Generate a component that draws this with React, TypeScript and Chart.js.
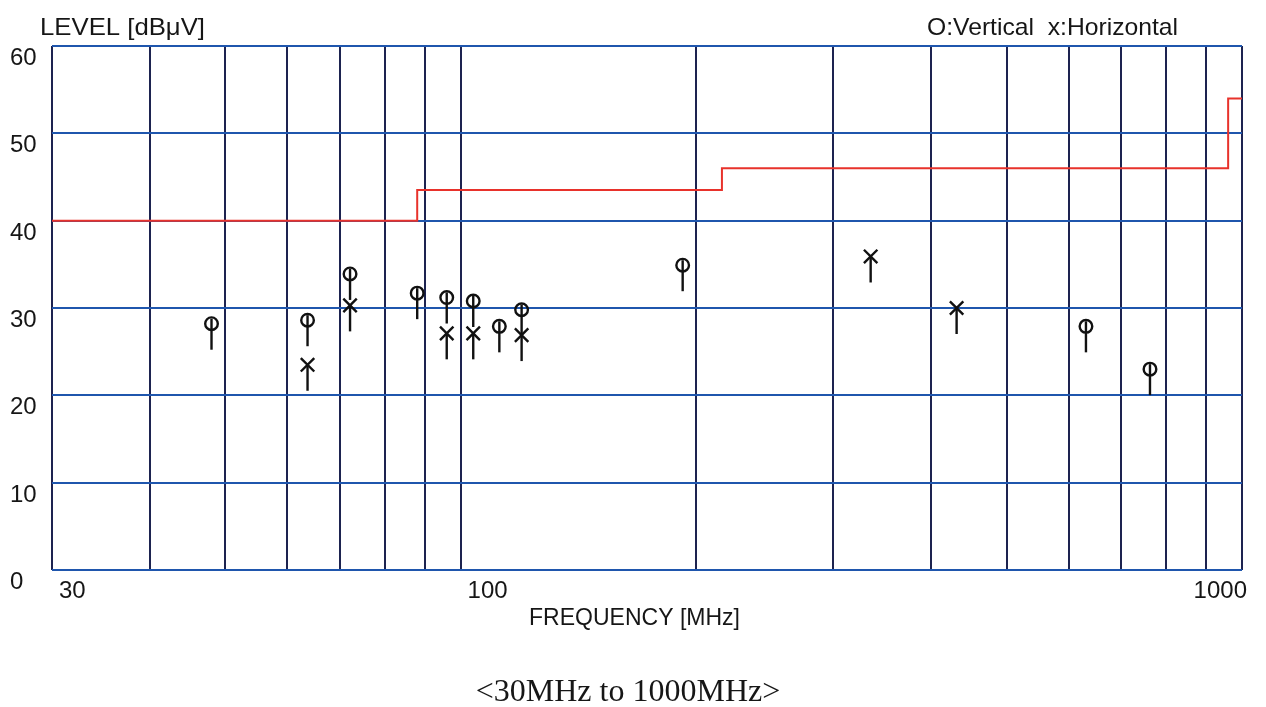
import React, { useEffect, useRef } from "react";
import { Chart, registerables } from "chart.js";

Chart.register(...registerables);

// ---- data ----
const limitFreq = [30, 88, 216, 960, 1000];
const limitLevel = [40, 43.5, 46, 54, 54];

const vertFreq = [48.0, 63.7, 72.2, 88.0, 96.0, 103.8, 112.1, 119.7, 192.4, 631.4, 762.5];
const vertLevel = [28.2, 28.6, 33.9, 31.7, 31.2, 30.8, 27.9, 29.8, 34.9, 27.9, 23.0];

const horizFreq = [63.7, 72.2, 96.0, 103.8, 119.7, 334.8, 431.3];
const horizLevel = [23.5, 30.3, 27.1, 27.1, 26.9, 35.9, 30.0];

const xGridValues = [30, 40, 50, 60, 70, 80, 90, 100, 200, 300, 400, 500, 600, 700, 800, 900, 1000];
const xLabelValues = [30, 100, 1000];
const yTickValues = [0, 10, 20, 30, 40, 50, 60];

const yTitle = "LEVEL [dBμV]";
const xTitle = "FREQUENCY [MHz]";
const legendText = "O:Vertical  x:Horizontal";
const caption = "<30MHz to 1000MHz>";

const TEXT_FONT = '24px "Liberation Sans", Arial, sans-serif';
const TEXT_COLOR = "#161616";

const stickPlugin = {
  id: "sticks",
  beforeDatasetsDraw(chart: any) {
    const ctx = chart.ctx;
    chart.data.datasets.forEach((ds: any, i: number) => {
      if (!ds.stick) return;
      const meta = chart.getDatasetMeta(i);
      ctx.save();
      ctx.strokeStyle = "#111";
      ctx.lineWidth = 2.4;
      meta.data.forEach((el: any) => {
        ctx.beginPath();
        ctx.moveTo(el.x, el.y - ds.stickTop);
        ctx.lineTo(el.x, el.y + 26);
        ctx.stroke();
      });
      ctx.restore();
    });
  },
};

function fitText(ctx: any, text: string, x: number, y: number, width: number, align: string) {
  const w = ctx.measureText(text).width;
  const sx = width / w;
  ctx.save();
  ctx.translate(x, y);
  ctx.scale(sx, 1);
  ctx.textAlign = align;
  ctx.fillText(text, 0, 0);
  ctx.restore();
}

const textPlugin = {
  id: "texts",
  afterDraw(chart: any) {
    const ctx = chart.ctx;
    const xs = chart.scales.x;
    const ys = chart.scales.y;
    ctx.save();
    ctx.fillStyle = TEXT_COLOR;
    ctx.font = TEXT_FONT;
    ctx.textBaseline = "alphabetic";

    // y tick labels
    ctx.textAlign = "left";
    yTickValues.forEach((v) => {
      ctx.fillText(String(v), 10, ys.getPixelForValue(v) + 19);
    });

    // x tick labels
    xLabelValues.forEach((v, i) => {
      const px = xs.getPixelForValue(v);
      if (i === xLabelValues.length - 1) {
        ctx.textAlign = "right";
        ctx.fillText(String(v), px + 5, 598);
      } else {
        ctx.textAlign = "left";
        ctx.fillText(String(v), px + 7, 598);
      }
    });

    // titles
    fitText(ctx, yTitle, 40, 35, 165, "left");
    fitText(ctx, legendText, 927, 35, 251, "left");
    fitText(ctx, xTitle, 529, 625, 211, "left");

    // caption (serif)
    ctx.font = '32px "Liberation Serif", "Times New Roman", serif';
    ctx.textAlign = "center";
    ctx.fillText(caption, 628, 701);
    ctx.restore();
  },
};

export default function App() {
  const ref = useRef<HTMLCanvasElement | null>(null);

  useEffect(() => {
    if (!ref.current) return;
    const chart = new Chart(ref.current, {
      type: "line",
      data: {
        datasets: [
          {
            label: "Limit",
            data: limitFreq.map((f, i) => ({ x: f, y: limitLevel[i] })),
            borderColor: "#e8322b",
            borderWidth: 2,
            pointRadius: 0,
            stepped: true,
            fill: false,
          } as any,
          {
            label: "Vertical",
            data: vertFreq.map((f, i) => ({ x: f, y: vertLevel[i] })),
            showLine: false,
            pointStyle: "circle",
            pointRadius: 6.3,
            pointBorderWidth: 2.4,
            pointBorderColor: "#111",
            pointBackgroundColor: "rgba(0,0,0,0)",
            stick: true,
            stickTop: 5,
          } as any,
          {
            label: "Horizontal",
            data: horizFreq.map((f, i) => ({ x: f, y: horizLevel[i] })),
            showLine: false,
            pointStyle: "crossRot",
            pointRadius: 9.5,
            pointBorderWidth: 2.4,
            pointBorderColor: "#111",
            pointBackgroundColor: "#111",
            stick: true,
            stickTop: 0,
          } as any,
        ],
      },
      options: {
        animation: false,
        responsive: false,
        devicePixelRatio: 1,
        layout: { padding: { left: 52, top: 46, right: 24, bottom: 137 } },
        plugins: {
          legend: { display: false },
          title: { display: false },
          tooltip: { enabled: false },
        },
        scales: {
          x: {
            type: "logarithmic",
            min: 30,
            max: 1000,
            afterBuildTicks: (scale: any) => {
              scale.ticks = xGridValues.map((v) => ({ value: v }));
            },
            ticks: { display: false },
            grid: { color: "#1d2350", lineWidth: 2, drawTicks: false },
            border: { display: false },
          },
          y: {
            type: "linear",
            min: 0,
            max: 60,
            ticks: { display: false, stepSize: 10 },
            grid: { color: "#1f56ad", lineWidth: 2, drawTicks: false },
            border: { display: false },
          },
        },
      } as any,
      plugins: [stickPlugin, textPlugin],
    });
    return () => chart.destroy();
  }, []);

  return (
    <div style={{ position: "absolute", left: 0, top: 0, width: 1266, height: 707, background: "#ffffff" }}>
      <canvas ref={ref} width={1266} height={707} style={{ display: "block" }} />
    </div>
  );
}
